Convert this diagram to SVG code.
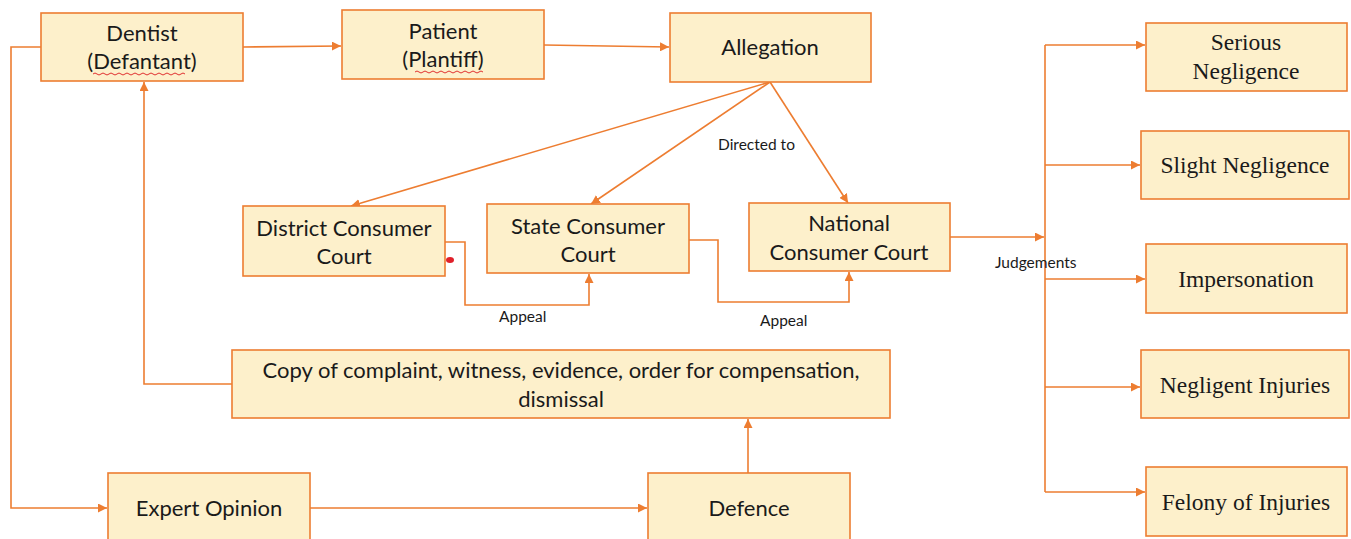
<svg xmlns="http://www.w3.org/2000/svg" width="1351" height="539" viewBox="0 0 1351 539">
<style>
.box{fill:#FDF0CB;stroke:#ED7D31;stroke-width:1.6}
.t{font-family:Lato,"Open Sans",sans-serif;font-size:22px;fill:#1a1a1a;text-anchor:middle}
.s{font-family:"Liberation Serif","DejaVu Serif",serif;font-size:23.5px;fill:#1a1a1a;text-anchor:middle}
.lbl{font-family:Lato,"Open Sans",sans-serif;font-size:15.5px;fill:#1a1a1a}
.c{fill:none;stroke:#ED7D31;stroke-width:1.6}
.wave{fill:none;stroke:#E03030;stroke-width:1}
</style>
<defs>
<marker id="ah" viewBox="0 0 10 10" refX="10" refY="5" markerWidth="9" markerHeight="9" markerUnits="userSpaceOnUse" orient="auto">
<path d="M0,0 L10,5 L0,10 Z" fill="#ED7D31"/>
</marker>
</defs>
<rect width="1351" height="539" fill="#fff"/>
<g id="connectors">
<line class="c" x1="243" y1="47" x2="341" y2="46" marker-end="url(#ah)"/>
<line class="c" x1="544" y1="45" x2="669" y2="47" marker-end="url(#ah)"/>
<line class="c" x1="770" y1="82" x2="351" y2="206" marker-end="url(#ah)"/>
<line class="c" x1="770" y1="82" x2="591" y2="204" marker-end="url(#ah)"/>
<line class="c" x1="770" y1="82" x2="848" y2="203" marker-end="url(#ah)"/>
<polyline class="c" points="445,242 465,242 465,305 589,305 589,274" marker-end="url(#ah)"/>
<polyline class="c" points="689,240 718,240 718,302 849,302 849,272" marker-end="url(#ah)"/>
<line class="c" x1="950" y1="237" x2="1044" y2="237" marker-end="url(#ah)"/>
<line class="c" x1="1045" y1="45" x2="1045" y2="492"/>
<line class="c" x1="1045" y1="45" x2="1145" y2="45" marker-end="url(#ah)"/>
<line class="c" x1="1045" y1="165" x2="1140" y2="165" marker-end="url(#ah)"/>
<line class="c" x1="1045" y1="279" x2="1145" y2="279" marker-end="url(#ah)"/>
<line class="c" x1="1045" y1="387" x2="1140" y2="387" marker-end="url(#ah)"/>
<line class="c" x1="1045" y1="492" x2="1145" y2="492" marker-end="url(#ah)"/>
<polyline class="c" points="41,47 11,47 11,508 107,508" marker-end="url(#ah)"/>
<polyline class="c" points="232,384 144,384 144,82" marker-end="url(#ah)"/>
<line class="c" x1="310" y1="508" x2="647" y2="508" marker-end="url(#ah)"/>
<line class="c" x1="748" y1="473" x2="748" y2="419" marker-end="url(#ah)"/>
<text class="lbl" x="718" y="150">Directed to</text>
<text class="lbl" x="499" y="322">Appeal</text>
<text class="lbl" x="760" y="326">Appeal</text>
<text class="lbl" x="995" y="268">Judgements</text>
</g>
<g id="dentist">
<rect class="box" x="41" y="13" width="202" height="68"/>
<text class="t" x="142" y="41">Dentist</text>
<text class="t" x="142" y="69">(Defantant)</text>
<path class="wave" d="M93,74 q2,-2 4,0 t4,0 t4,0 t4,0 t4,0 t4,0 t4,0 t4,0 t4,0 t4,0 t4,0 t4,0 t4,0 t4,0 t4,0 t4,0 t4,0 t4,0 t4,0 t4,0 t4,0 t4,0 t4,0"/>
</g>
<g id="patient">
<rect class="box" x="342" y="10" width="202" height="69"/>
<text class="t" x="443" y="39">Patient</text>
<text class="t" x="443" y="67">(Plantiff)</text>
<path class="wave" d="M415,72 q2,-2 4,0 t4,0 t4,0 t4,0 t4,0 t4,0 t4,0 t4,0 t4,0 t4,0 t4,0 t4,0 t4,0 t4,0 t4,0 t4,0 t4,0"/>
</g>
<g id="allegation">
<rect class="box" x="670" y="13" width="201" height="69"/>
<text class="t" x="770" y="55">Allegation</text>
</g>
<g id="district">
<rect class="box" x="243" y="206" width="202" height="70"/>
<text class="t" x="344" y="236">District Consumer</text>
<text class="t" x="344" y="264">Court</text>
<ellipse cx="450" cy="260" rx="4" ry="3" fill="#E0202A"/>
</g>
<g id="state">
<rect class="box" x="487" y="204" width="202" height="69"/>
<text class="t" x="588" y="234">State Consumer</text>
<text class="t" x="588" y="262">Court</text>
</g>
<g id="national">
<rect class="box" x="749" y="203" width="201" height="68"/>
<text class="t" x="849" y="231">National</text>
<text class="t" x="849" y="260">Consumer Court</text>
</g>
<g id="copy">
<rect class="box" x="232" y="350" width="658" height="68"/>
<text class="t" x="561" y="378">Copy of complaint, witness, evidence, order for compensation,</text>
<text class="t" x="561" y="407">dismissal</text>
</g>
<g id="expert">
<rect class="box" x="108" y="473" width="202" height="72"/>
<text class="t" x="209" y="516">Expert Opinion</text>
</g>
<g id="defence">
<rect class="box" x="648" y="473" width="202" height="72"/>
<text class="t" x="749" y="516">Defence</text>
</g>
<g id="serious">
<rect class="box" x="1146" y="23" width="201" height="68"/>
<text class="s" x="1246" y="50">Serious</text>
<text class="s" x="1246" y="79">Negligence</text>
</g>
<g id="slight">
<rect class="box" x="1141" y="131" width="208" height="68"/>
<text class="s" x="1245" y="173">Slight Negligence</text>
</g>
<g id="impersonation">
<rect class="box" x="1146" y="244" width="201" height="69"/>
<text class="s" x="1246" y="287">Impersonation</text>
</g>
<g id="negligent">
<rect class="box" x="1141" y="350" width="208" height="68"/>
<text class="s" x="1245" y="393">Negligent Injuries</text>
</g>
<g id="felony">
<rect class="box" x="1146" y="467" width="201" height="69"/>
<text class="s" x="1246" y="510">Felony of Injuries</text>
</g>
</svg>
